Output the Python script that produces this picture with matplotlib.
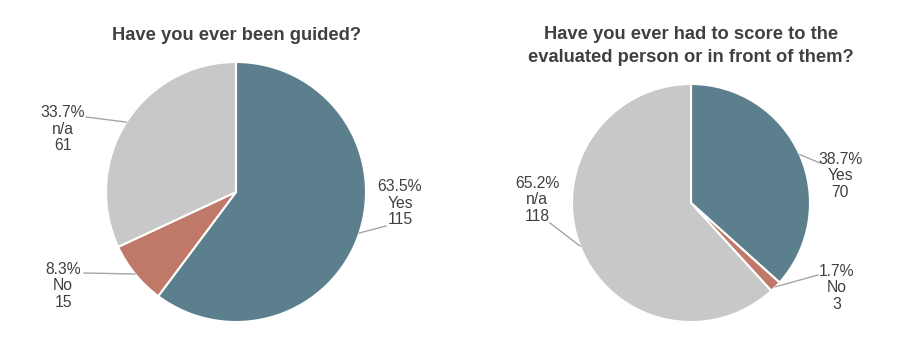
import matplotlib.pyplot as plt
import numpy as np

plt.rcParams['font.family'] = ['Liberation Sans', 'DejaVu Sans']

# survey answers
categories = ["Yes", "No", "n/a"]
guided_counts = [115, 15, 61]
guided_pct = ["63.5%", "8.3%", "33.7%"]
score_counts = [70, 3, 118]
score_pct = ["38.7%", "1.7%", "65.2%"]

titles = ["Have you ever been guided?",
          "Have you ever had to score to the\nevaluated person or in front of them?"]
colors = ["#5c7f8e", "#c07868", "#c8c8c8"]
text_color = "#404040"
line_color = "#a6a6a6"

W, H = 909, 338
fig = plt.figure(figsize=(W / 100, H / 100), dpi=100)


def pie_axes(cx, cy, r):
    # axes box spanning exactly the pie circle (pixel coords, y from top)
    ax = fig.add_axes([(cx - r) / W, (H - cy - r) / H, 2 * r / W, 2 * r / H])
    ax.axis("off")
    return ax


def px(ax_c, r, x, y):
    # pixel position -> data coords of a pie axes
    cx, cy = ax_c
    return (x - cx) / r, (cy - y) / r


# label text centre and leader end (pixels) for each slice
left_layout = [((400, 203), (386, 226)), ((63, 286), (84, 273)), ((63, 129), (86, 117))]
right_layout = [((840, 176), (820, 163)), ((837, 288), (818, 275)), ((537, 200), (550, 223))]

charts = [
    ((236, 192), 130, guided_counts, guided_pct, left_layout, titles[0], 35),
    ((691, 203), 119, score_counts, score_pct, right_layout, titles[1], 46),
]

for centre, r, counts, pcts, layout, title, ty in charts:
    ax = pie_axes(centre[0], centre[1], r)
    wedges, _ = ax.pie(counts, colors=colors, startangle=90, counterclock=False,
                       radius=1, wedgeprops=dict(edgecolor="white", linewidth=1.5))
    ax.set_xlim(-1, 1)
    ax.set_ylim(-1, 1)
    for w, cat, n, p, (tpos, lend) in zip(wedges, categories, counts, pcts, layout):
        mid = np.deg2rad((w.theta1 + w.theta2) / 2)
        ex, ey = np.cos(mid), np.sin(mid)
        lx, ly = px(centre, r, *lend)
        ax.plot([ex, lx], [ey, ly], color=line_color, lw=1, clip_on=False)
        tx, tyy = px(centre, r, *tpos)
        ax.text(tx, tyy, f"{p}\n{cat}\n{n}", ha="center", va="center",
                fontsize=11.3, color=text_color, linespacing=1.15)
    fig.text(centre[0] / W, 1 - ty / H, title, ha="center", va="center",
             fontsize=13.2, fontweight="bold", color=text_color, linespacing=1.4)

plt.savefig("out.png", dpi=100, facecolor="white")
